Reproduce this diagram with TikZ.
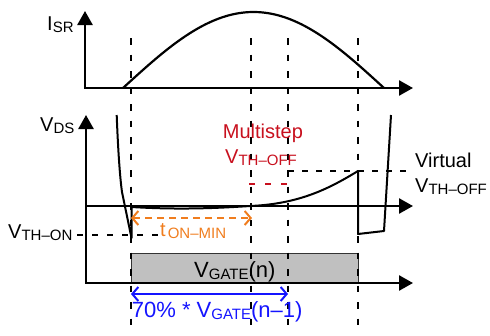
\documentclass[tikz,border=0pt]{standalone}
\usepackage{fontspec}
\setmainfont{Liberation Sans}
\usetikzlibrary{arrows.meta}
\newcommand\sbs[1]{\raisebox{-2pt}{\fontsize{15}{18}\selectfont #1}}
\definecolor{msred}{RGB}{200,16,30}
\definecolor{torange}{RGB}{240,125,30}
\definecolor{gblue}{RGB}{20,20,255}
\definecolor{gatefill}{RGB}{192,192,192}
\begin{document}
\begin{tikzpicture}[x=1pt,y=-1pt,
  axis/.style={line width=2.5pt,{Triangle[length=14pt,width=15pt]}-{Triangle[length=14pt,width=15pt]}},
  haxis/.style={line width=2.5pt,-{Triangle[length=14pt,width=15pt]}},
  wave/.style={line width=2pt, line join=round},
  guide/.style={line width=1.1pt, dash pattern=on 6.5pt off 10pt},
  lbl/.style={anchor=base west, inner sep=0pt, font=\fontsize{20}{24}\selectfont},
  glbl/.style={anchor=base west, inner sep=0pt, font=\fontsize{22}{26}\selectfont},
  barbs/.style={{Straight Barb[length=6pt,width=14pt]}-{Straight Barb[length=6pt,width=14pt]}}
]
\useasboundingbox (0,0) rectangle (490,335);
% gate box
\node[draw=black!80, line width=1pt, fill=gatefill, minimum width=227pt, minimum height=30pt,
      anchor=north west, inner sep=0pt] (gate) at (131,253) {};
% guide lines
\foreach \gx/\gn in {131/ga,251/gb,288/gc,358/gd}{
  \coordinate (\gn top) at (\gx,38);
  \coordinate (\gn bot) at (\gx,335);
  \draw[guide] (\gn top) -- (\gn bot);
}
% axes
\coordinate (o1) at (85,88);
\draw[axis] (85,11) -- (o1) -- (413,88);
\coordinate (o2) at (86,283);
\draw[axis] (86,115) -- (o2) -- (413,283);
\draw[haxis] (86,206) -- (413,206);
% I_SR
\draw[line width=2.2pt] plot[domain=123:384, samples=80] (\x, {88-76*sin(((\x-123)/261)*180)});
% V_DS
\draw[wave] (116.7,115) .. controls (118,150) and (120,178) .. (122,192) -- (131.5,238) -- (131.5,207)
  .. controls (180,210) and (220,208) .. (250,206)
  .. controls (300,204) and (330,188) .. (358,171) -- (358,234) -- (384,231) -- (391,115);
% threshold lines
\draw[line width=1.2pt, dash pattern=on 6pt off 9pt] (77,235) -- (160,235);
\draw[line width=2pt, dash pattern=on 6pt off 8pt] (288,171) -- (406,171);
\draw[msred, line width=2pt, dash pattern=on 6pt off 10pt] (249,184) -- (288,184);
% timing arrows
\draw[torange, line width=2pt, dash pattern=on 7pt off 5pt, barbs] (131,218) -- (252,218);
\draw[gblue, line width=2pt, barbs] (131,294) -- (288,294);
% labels
\node[lbl] (isr) at (47,30) {I\sbs{SR}};
\node[lbl] (vds) at (40,131) {V\sbs{DS}};
\node[lbl] (vthon) at (8,238) {V\sbs{TH–ON}};
\node[lbl, text=msred] (ms) at (222.7,138) {Multistep};
\node[lbl, text=msred] (msv) at (225,163) {V\sbs{TH–OFF}};
\node[lbl] (virt) at (415,167) {Virtual};
\node[lbl] (virtv) at (415,192) {V\sbs{TH–OFF}};
\node[lbl, text=torange] (ton) at (160,236) {t\kern2pt\sbs{ON–MIN}};
\node[glbl] (vg) at (194,277) {V\sbs{GATE}(n)};
\node[glbl, text=gblue] (vg1) at (131.7,317) {70\% * V\sbs{GATE}(n–1)};
\end{tikzpicture}
\end{document}
